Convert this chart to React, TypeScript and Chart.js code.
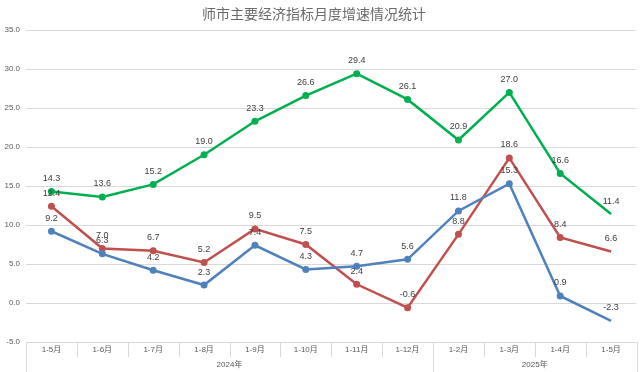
import React, { useEffect, useRef } from "react";
import { Chart, registerables } from "chart.js";

Chart.register(...registerables);

const categories = ["1-5月", "1-6月", "1-7月", "1-8月", "1-9月", "1-10月", "1-11月", "1-12月", "1-2月", "1-3月", "1-4月", "1-5月"];
const years = ["2024年", "2025年"];
const yearSpans = [8, 4];
const greenSeries = [14.3, 13.6, 15.2, 19.0, 23.3, 26.6, 29.4, 26.1, 20.9, 27.0, 16.6, 11.4];
const redSeries = [12.4, 7.0, 6.7, 5.2, 9.5, 7.5, 2.4, -0.6, 8.8, 18.6, 8.4, 6.6];
const blueSeries = [9.2, 6.3, 4.2, 2.3, 7.4, 4.3, 4.7, 5.6, 11.8, 15.3, 0.9, -2.3];
const title = "师市主要经济指标月度增速情况统计";

const FONT = "'Liberation Sans', 'Noto Sans CJK SC', sans-serif";

export default function App() {
  const ref = useRef<HTMLCanvasElement | null>(null);
  useEffect(() => {
    document.body.style.margin = "0";
    const canvas = ref.current!;
    const radii = categories.map((_, i) => (i === categories.length - 1 ? 0 : 3.5));
    const mk = (data: number[], color: string) => ({
      data,
      borderColor: color,
      backgroundColor: color,
      borderWidth: 2.5,
      pointRadius: radii,
      pointHoverRadius: radii,
      pointBorderWidth: 0,
      tension: 0,
    });
    const overlay = {
      id: "overlay",
      afterDraw(chart: any) {
        const ctx = chart.ctx as CanvasRenderingContext2D;
        const area = chart.chartArea;
        const n = categories.length;
        const w = (area.right - area.left) / n;
        ctx.save();
        // title
        ctx.fillStyle = "#6b6b6b";
        ctx.font = `14px 'Noto Sans CJK SC', sans-serif`;
        ctx.textAlign = "center";
        ctx.textBaseline = "middle";
        ctx.fillText(title, 314, 14);
        // separators
        ctx.strokeStyle = "#D9D9D9";
        ctx.lineWidth = 1;
        const bounds = [0];
        let acc = 0;
        yearSpans.forEach((s) => { acc += s; bounds.push(acc); });
        for (let i = 0; i <= n; i++) {
          const x = Math.round(area.left + i * w) + 0.5;
          const long = bounds.includes(i);
          ctx.beginPath();
          ctx.moveTo(x, area.bottom);
          ctx.lineTo(x, long ? 372 : 357);
          ctx.stroke();
        }
        // year labels
        ctx.fillStyle = "#595959";
        ctx.font = `8px ${FONT}`;
        let start = 0;
        years.forEach((y, k) => {
          const cx = area.left + (start + yearSpans[k] / 2) * w;
          ctx.fillText(y, cx, 365);
          start += yearSpans[k];
        });
        // data labels
        ctx.fillStyle = "#404040";
        ctx.font = `9px ${FONT}`;
        chart.data.datasets.forEach((ds: any, di: number) => {
          const meta = chart.getDatasetMeta(di);
          meta.data.forEach((pt: any, i: number) => {
            ctx.fillText(Number(ds.data[i]).toFixed(1), pt.x, pt.y - 13);
          });
        });
        ctx.restore();
      },
    };
    const chart = new Chart(canvas, {
      type: "line",
      data: {
        labels: categories,
        datasets: [mk(blueSeries, "#4F81BD"), mk(redSeries, "#C0504D"), mk(greenSeries, "#00B050")],
      },
      options: {
        responsive: false,
        animation: false,
        layout: { padding: { top: 30, right: 3, left: 0, bottom: 0 } },
        plugins: { legend: { display: false }, title: { display: false }, tooltip: { enabled: false } },
        scales: {
          x: {
            offset: true,
            grid: { display: false, drawTicks: false },
            border: { display: false },
            ticks: { font: { size: 8, family: FONT }, color: "#595959", padding: 3, maxRotation: 0, autoSkip: false },
            afterFit: (s: any) => { s.height = 30; },
          },
          y: {
            min: -5,
            max: 35,
            ticks: {
              stepSize: 5,
              font: { size: 8, family: FONT },
              color: "#595959",
              padding: 6,
              callback: (v: any) => Number(v).toFixed(1),
            },
            grid: { color: "#D9D9D9", drawTicks: false },
            border: { display: false },
            afterFit: (s: any) => { s.width = 26; },
          },
        },
      },
      plugins: [overlay],
    });
    return () => chart.destroy();
  }, []);
  return <canvas ref={ref} width={640} height={372} style={{ display: "block" }} />;
}
